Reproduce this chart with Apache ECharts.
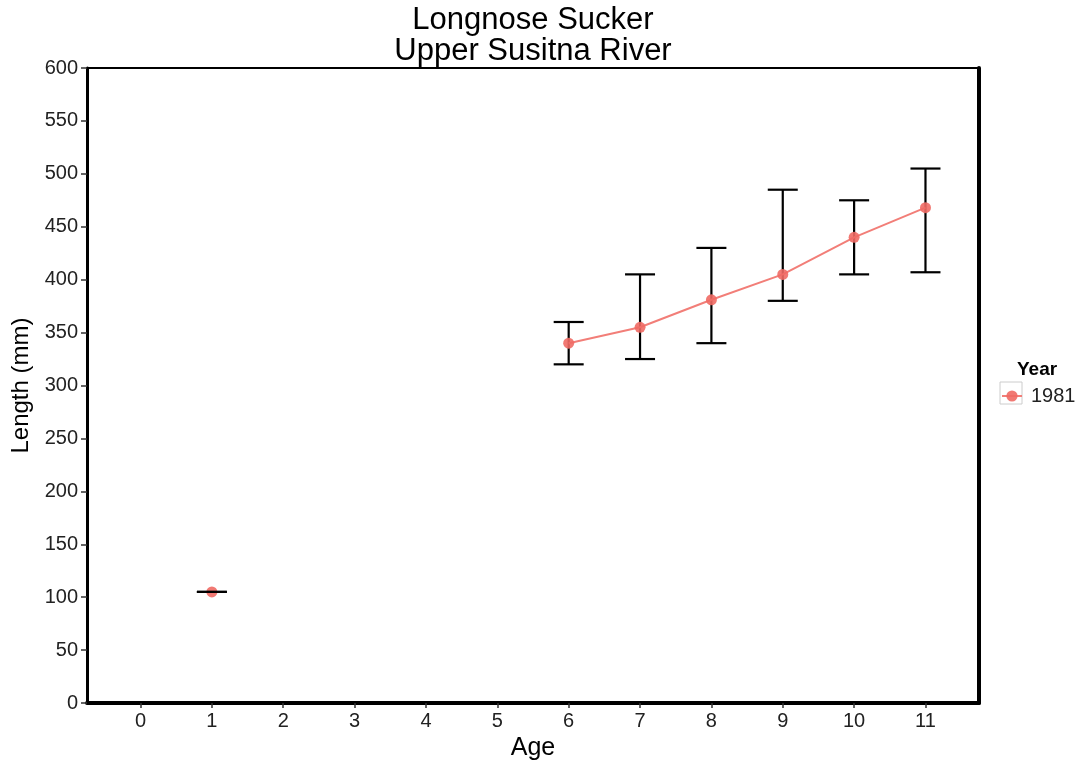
<!DOCTYPE html>
<html><head><meta charset="utf-8">
<script src="https://cdn.jsdelivr.net/npm/echarts@6/dist/echarts.min.js"></script>
<style>html,body{margin:0;padding:0;background:#fff}#c{width:1080px;height:763px}</style>
</head><body><div id="c"></div>
<script>
var ages = [1, 6, 7, 8, 9, 10, 11];
var meanLength = [105, 340, 355, 381, 405, 440, 468];
var lowLength = [105, 320, 325, 340, 380, 405, 407];
var highLength = [105, 360, 405, 430, 485, 475, 505];
var xTicks = [0, 1, 2, 3, 4, 5, 6, 7, 8, 9, 10, 11];
var seriesName = '1981';

var font = 'Liberation Sans, Arial, sans-serif';
var pts = ages.map(function (a, i) { return [a, meanLength[i]]; });
var errs = ages.map(function (a, i) { return [a, lowLength[i], highLength[i]]; });

var chart = echarts.init(document.getElementById('c'));
chart.setOption({
  animation: false,
  backgroundColor: '#fff',
  title: {
    text: 'Longnose Sucker\nUpper Susitna River',
    left: 533, top: 5, textAlign: 'center', padding: 0,
    textStyle: { fontFamily: font, fontSize: 31, fontWeight: 'normal', color: '#000', lineHeight: 31 }
  },
  grid: { left: 87, right: 101, top: 68, bottom: 60, show: true, borderColor: '#000', borderWidth: 2,
          containLabel: false, outerBoundsMode: 'none' },
  legend: {
    data: [{ name: seriesName }],
    orient: 'vertical', left: 1001, top: 386, padding: 0,
    itemWidth: 20, itemHeight: 14, itemGap: 4,
    textStyle: { fontFamily: font, fontSize: 20, color: '#222', padding: [0, 0, 0, 4] }
  },
  graphic: [
    { type: 'text', left: 1017, top: 360, style: { text: 'Year', font: 'bold 19px ' + font, fill: '#000' } },
    { type: 'rect', shape: { x: 1000, y: 382, width: 22, height: 22 }, style: { fill: 'none', stroke: '#ccc', lineWidth: 1 } }
  ],
  xAxis: {
    type: 'value', min: -0.75, max: 11.75,
    name: 'Age', nameLocation: 'middle', nameGap: 33,
    nameTextStyle: { fontFamily: font, fontSize: 25, color: '#000' },
    axisLine: { show: true, onZero: false, lineStyle: { color: '#000', width: 4 } },
    axisTick: { show: true, customValues: xTicks, length: 5, lineStyle: { color: '#333', width: 1.5 } },
    axisLabel: { customValues: xTicks, fontFamily: font, fontSize: 20, color: '#222', margin: 8 },
    splitLine: { show: false }
  },
  yAxis: [{
    type: 'value', min: 0, max: 600, interval: 50,
    name: 'Length (mm)', nameLocation: 'middle', nameGap: 47,
    nameTextStyle: { fontFamily: font, fontSize: 24, color: '#000' },
    axisLine: { show: true, onZero: false, lineStyle: { color: '#000', width: 3 } },
    axisTick: { show: true, length: 6, lineStyle: { color: '#333', width: 1.5 } },
    axisLabel: { fontFamily: font, fontSize: 20, color: '#222', margin: 9 },
    splitLine: { show: false }
  }, {
    type: 'value', min: 0, max: 600, position: 'right',
    axisLine: { show: true, onZero: false, lineStyle: { color: '#000', width: 4 } },
    axisTick: { show: false }, axisLabel: { show: false }, splitLine: { show: false }
  }],
  series: [{
    type: 'custom', name: 'err', silent: true, z: 3,
    data: errs,
    renderItem: function (params, api) {
      var x = api.value(0);
      var lo = api.coord([x, api.value(1)]);
      var hi = api.coord([x, api.value(2)]);
      var hw = 15;
      var st = { stroke: '#000', lineWidth: 2.2 };
      return { type: 'group', children: [
        { type: 'line', shape: { x1: lo[0], y1: lo[1], x2: hi[0], y2: hi[1] }, style: st },
        { type: 'line', shape: { x1: lo[0] - hw, y1: lo[1], x2: lo[0] + hw, y2: lo[1] }, style: st },
        { type: 'line', shape: { x1: hi[0] - hw, y1: hi[1], x2: hi[0] + hw, y2: hi[1] }, style: st }
      ] };
    }
  }, {
    type: 'line', name: seriesName, z: 4,
    data: pts.slice(1),
    symbol: 'circle', symbolSize: 11,
    itemStyle: { color: '#F06A64', opacity: 0.9 },
    lineStyle: { color: '#F27E78', width: 2 }
  }, {
    type: 'scatter', name: seriesName, z: 2,
    data: pts.slice(0, 1),
    symbol: 'circle', symbolSize: 11,
    itemStyle: { color: '#F06A64', opacity: 0.9 }
  }]
});
</script></body></html>
